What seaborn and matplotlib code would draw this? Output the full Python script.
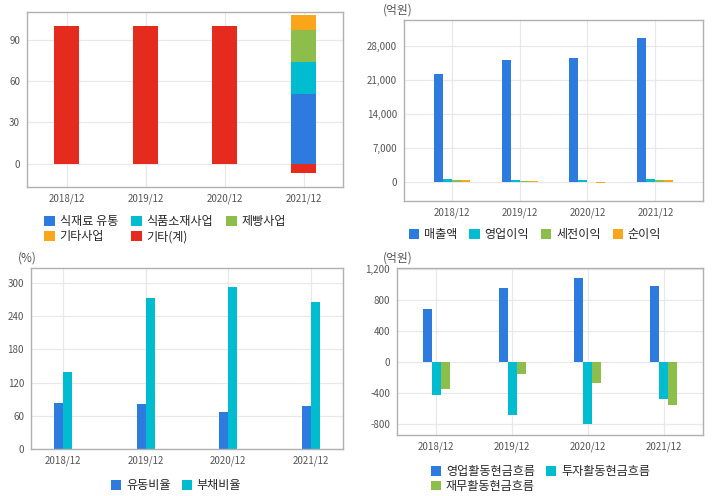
import pandas as pd
import numpy as np
import matplotlib
matplotlib.use('Agg')
import matplotlib.pyplot as plt
import matplotlib.ticker as mticker
import seaborn as sns

periods = ['2018/12', '2019/12', '2020/12', '2021/12']

# sales composition (%)
seg_names = ['식재료 유통', '식품소재사업', '제빵사업', '기타사업', '기타(계)']
seg_food = [0, 0, 0, 50.2]
seg_material = [0, 0, 0, 23.4]
seg_bakery = [0, 0, 0, 23.2]
seg_other_biz = [0, 0, 0, 10.9]
seg_other_total = [100, 100, 100, -7.0]

# income statement (억원)
pl_names = ['매출액', '영업이익', '세전이익', '순이익']
sales = [22200, 25070, 25480, 29580]
op_income = [620, 480, 420, 650]
pretax_income = [420, 260, 30, 450]
net_income = [360, 210, -200, 420]

# ratios (%)
ratio_names = ['유동비율', '부채비율']
current_ratio = [84, 82, 66, 78]
debt_ratio = [140, 272, 292, 266]

# cash flow (억원)
cf_names = ['영업활동현금흐름', '투자활동현금흐름', '재무활동현금흐름']
cf_operating = [687, 957, 1086, 983]
cf_investing = [-429, -687, -803, -472]
cf_financing = [-352, -150, -275, -558]

BLUE = '#2e7be0'
CYAN = '#00bcd0'
GREEN = '#8dbe4b'
ORANGE = '#faa61a'
RED = '#e52b1e'

sns.set_style('whitegrid')
plt.rcParams['font.family'] = ['Noto Sans CJK KR', 'DejaVu Sans']

fig = plt.figure(figsize=(7.2, 4.96), dpi=100)

LEG = dict(frameon=False, fontsize=8.7, handlelength=0.85, handleheight=0.85,
           handletextpad=0.4, labelspacing=0.15, borderaxespad=0)


def make_ax(x0, y0, x1, y1):
    # pixel box -> figure fraction
    return fig.add_axes([x0 / 720, (496 - y1) / 496, (x1 - x0) / 720, (y1 - y0) / 496])


def style_ax(ax, ylim, ticks, fmt_comma=False):
    ax.set_ylim(*ylim)
    ax.set_yticks(ticks)
    if fmt_comma:
        ax.yaxis.set_major_formatter(mticker.FuncFormatter(lambda v, p: f'{int(v):,}'))
    ax.set_xlabel('')
    ax.set_ylabel('')
    ax.set_axisbelow(True)
    ax.grid(True, color='#e8e8e8', linewidth=0.9)
    for s in ax.spines.values():
        s.set_color('#b0b0b0')
        s.set_linewidth(1.0)
    ax.tick_params(length=0, labelsize=7, labelcolor='#555555', pad=5)


# ---- panel 1: stacked composition
ax1 = make_ax(27, 12, 343, 187)
d1 = pd.DataFrame({'period': periods, 'a': seg_food, 'b': seg_material,
                   'c': seg_bakery, 'd': seg_other_biz, 'e': seg_other_total})
d1['cum_b'] = d1['a'] + d1['b']
d1['cum_c'] = d1['cum_b'] + d1['c']
d1['cum_d'] = d1['cum_c'] + d1['d']
layers = [('cum_d', ORANGE, seg_names[3]), ('cum_c', GREEN, seg_names[2]),
          ('cum_b', CYAN, seg_names[1]), ('a', BLUE, seg_names[0]),
          ('e', RED, seg_names[4])]
for col, c, lab in layers:
    sns.barplot(data=d1, x='period', y=col, color=c, width=0.32, ax=ax1,
                label=lab, saturation=1, linewidth=0)
ax1.set_xlim(-0.5, 3.5)
style_ax(ax1, (-17, 110), [0, 30, 60, 90])
h, l = ax1.get_legend_handles_labels()
hm = dict(zip(l, h))
order = [seg_names[0], seg_names[3], seg_names[1], seg_names[4], seg_names[2]]
ax1.legend([hm[k] for k in order], order, ncol=3, loc='upper left',
           bbox_to_anchor=(0.04, -0.135), columnspacing=1.1, **LEG)

# ---- panel 2: income statement
ax2 = make_ax(404, 20, 703, 201)
d2 = pd.DataFrame({'period': periods, pl_names[0]: sales, pl_names[1]: op_income,
                   pl_names[2]: pretax_income, pl_names[3]: net_income})
d2 = d2.melt(id_vars='period', var_name='item', value_name='value')
sns.barplot(data=d2, x='period', y='value', hue='item', hue_order=pl_names,
            palette=[BLUE, CYAN, GREEN, ORANGE], width=0.53, gap=0,
            saturation=1, linewidth=0, ax=ax2)
ax2.set_xlim(-0.7, 3.7)
style_ax(ax2, (-3900, 33270), [0, 7000, 14000, 21000, 28000], fmt_comma=True)
ax2.legend(ncol=4, loc='upper left', bbox_to_anchor=(0.0, -0.125),
           columnspacing=1.0, **LEG)
fig.text(383 / 720, 1 - 10 / 496, '(억원)', fontsize=8.5, color='#555555', va='center')

# ---- panel 3: ratios
ax3 = make_ax(31, 268, 343, 449)
d3 = pd.DataFrame({'period': periods, ratio_names[0]: current_ratio,
                   ratio_names[1]: debt_ratio})
d3 = d3.melt(id_vars='period', var_name='item', value_name='value')
sns.barplot(data=d3, x='period', y='value', hue='item', hue_order=ratio_names,
            palette=[BLUE, CYAN], width=0.22, gap=0, saturation=1,
            linewidth=0, ax=ax3)
ax3.set_xlim(-0.39, 3.39)
style_ax(ax3, (0, 327), [0, 60, 120, 180, 240, 300])
ax3.legend(ncol=2, loc='upper center', bbox_to_anchor=(0.465, -0.14),
           columnspacing=0.9, **LEG)
fig.text(18 / 720, 1 - 258 / 496, '(%)', fontsize=8.5, color='#555555', va='center')

# ---- panel 4: cash flow
ax4 = make_ax(397, 268, 703, 435)
d4 = pd.DataFrame({'period': periods, cf_names[0]: cf_operating,
                   cf_names[1]: cf_investing, cf_names[2]: cf_financing})
d4 = d4.melt(id_vars='period', var_name='item', value_name='value')
sns.barplot(data=d4, x='period', y='value', hue='item', hue_order=cf_names,
            palette=[BLUE, CYAN, GREEN], width=0.357, gap=0, saturation=1,
            linewidth=0, ax=ax4)
ax4.set_xlim(-0.52, 3.52)
style_ax(ax4, (-940, 1210), [-800, -400, 0, 400, 800, 1200], fmt_comma=True)
h, l = ax4.get_legend_handles_labels()
hm = dict(zip(l, h))
order = [cf_names[0], cf_names[2], cf_names[1]]
ax4.legend([hm[k] for k in order], order, ncol=2, loc='upper left',
           bbox_to_anchor=(0.095, -0.15), columnspacing=0.9, **LEG)
fig.text(383 / 720, 1 - 258 / 496, '(억원)', fontsize=8.5, color='#555555', va='center')

fig.savefig('out.png', dpi=100)
